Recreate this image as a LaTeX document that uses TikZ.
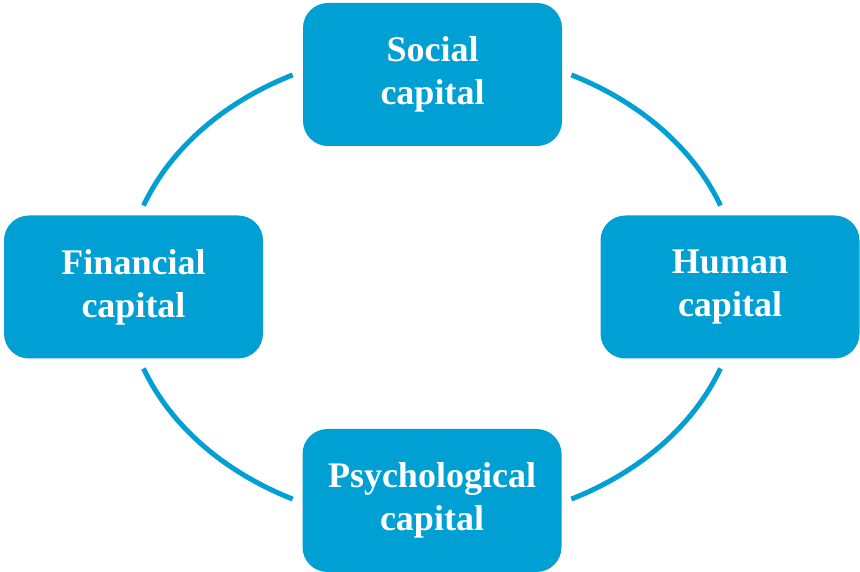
\documentclass[tikz,border=0pt]{standalone}
\usepackage{fontspec}
\setmainfont{Liberation Serif}
\usetikzlibrary{calc}
\definecolor{capblue}{RGB}{0,159,212}
\begin{document}
\begin{tikzpicture}[x=1pt,y=1pt,
  capbox/.style={fill=capblue, draw=none, rounded corners=25pt, minimum width=259pt, minimum height=143pt, inner sep=0pt, align=center, text=white, font=\fontsize{36}{43}\selectfont\bfseries},
  ring/.style={draw=capblue, line width=5pt}]
\useasboundingbox (0,0) rectangle (860,571);
\fill[white] (0,0) rectangle (860,571);
\coordinate (C) at (432,284);
\node[capbox] (social) at (432.5,496.5) {Social\\capital};
\node[capbox] (financial) at (133.5,284) {Financial\\capital};
\node[capbox] (human) at (730,284) {Human\\capital};
\node[capbox] (psych) at (432,70.5) {Psychological\\capital};
\foreach \a in {20,117,200,297} {
  \draw[ring] ($(C)+(\a:307pt and 238pt)$) arc[start angle=\a, delta angle=43, x radius=307pt, y radius=238pt];
}
\end{tikzpicture}
\end{document}
